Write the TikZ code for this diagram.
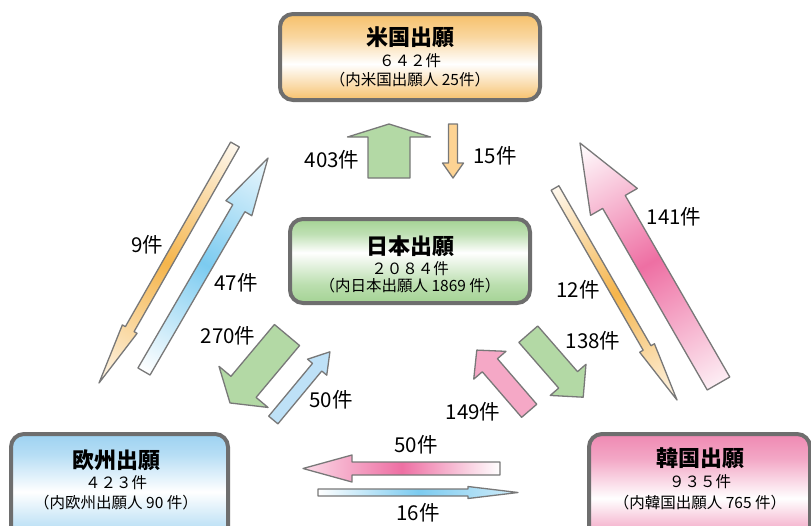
\documentclass[tikz,border=0pt]{standalone}
\usepackage{fontspec}
\setmainfont{Noto Sans CJK JP}
\definecolor{usO}{HTML}{F6C06A}
\definecolor{jpG}{HTML}{A4D394}
\definecolor{euB}{HTML}{9DD2F1}
\definecolor{krP}{HTML}{EF89B2}
\definecolor{boxgray}{HTML}{6E6E6E}
\definecolor{arrgray}{HTML}{787878}
\definecolor{grnA}{HTML}{B3D9A5}
\definecolor{orA}{HTML}{FDD393}
\definecolor{orM}{HTML}{F5B54C}
\definecolor{bluA}{HTML}{BEE1F7}
\definecolor{bluM}{HTML}{7CCBF0}
\definecolor{pnkA}{HTML}{F5A8C6}
\definecolor{pnkM}{HTML}{EE6FA3}
\pgfdeclareverticalshading{usshade}{100bp}{color(0bp)=(usO); color(25bp)=(usO); color(33bp)=(usO!60!white); color(46bp)=(white); color(62bp)=(usO!65!white); color(75bp)=(usO); color(100bp)=(usO)}
\pgfdeclareverticalshading{jpshade}{100bp}{color(0bp)=(jpG); color(25bp)=(jpG); color(36bp)=(jpG!75!white); color(55bp)=(white); color(66bp)=(jpG!70!white); color(75bp)=(jpG); color(100bp)=(jpG)}
\pgfdeclareverticalshading{eushade}{100bp}{color(0bp)=(euB); color(25bp)=(euB); color(49bp)=(white); color(66bp)=(euB!75!white); color(75bp)=(euB); color(100bp)=(euB)}
\pgfdeclareverticalshading{krshade}{100bp}{color(0bp)=(krP); color(25bp)=(krP); color(46bp)=(white); color(64bp)=(krP!75!white); color(75bp)=(krP); color(100bp)=(krP)}
\tikzset{
  boxstyle/.style={draw=boxgray, line width=4pt, rounded corners=13pt, inner sep=0pt, shade},
  arrowline/.style={draw=arrgray, line width=1.3pt, line join=round},
  lbl/.style={font=\fontsize{20.5}{20.5}\selectfont, inner sep=0pt},
  ttl/.style={font=\fontsize{22}{22}\selectfont\bfseries, inner sep=0pt},
  sub/.style={font=\fontsize{15.5}{15.5}\selectfont, inner sep=0pt},
}
% block arrow: #1 tail, #2 tip, #3 shaft half width, #4 head half width, #5 head length, #6 style
\newcommand\barrow[6]{%
  \path (#1); \pgfgetlastxy{\barax}{\baray}%
  \path (#2); \pgfgetlastxy{\barbx}{\barby}%
  \pgfmathsetmacro\barang{atan2((\barby)-(\baray),(\barbx)-(\barax))}%
  \pgfmathsetmacro\barlen{veclen((\barbx)-(\barax),(\barby)-(\baray))}%
  \pgfmathsetmacro\barhb{\barlen-#5}%
  \begin{scope}[transform canvas={shift={(#1)},rotate=\barang}]
    \path[arrowline,#6] (0pt,#3pt) -- (\barhb pt,#3pt) -- (\barhb pt,#4pt) -- (\barlen pt,0pt)
      -- (\barhb pt,-#4pt) -- (\barhb pt,-#3pt) -- (0pt,-#3pt) -- cycle;
  \end{scope}}
\begin{document}
\begin{tikzpicture}[x=1pt,y=-1pt]
\useasboundingbox (0,0) rectangle (811,525);
\fill[white] (0,0) rectangle (811,525);
% boxes
\node[boxstyle, shading=usshade, minimum width=260pt, minimum height=86pt] (us) at (410,57) {};
\node[boxstyle, shading=jpshade, minimum width=240pt, minimum height=84pt] (jp) at (410,261) {};
\node[boxstyle, shading=eushade, minimum width=217pt, minimum height=111pt] (eu) at (119.5,489.5) {};
\node[boxstyle, shading=krshade, minimum width=221pt, minimum height=111pt] (kr) at (699.5,489.5) {};
% box texts
\node[ttl] (us-t) at (410,37) {米国出願};
\node[sub] (us-n) at (410,61) {６４２件};
\node[sub] (us-d) at (410,80) {（内米国出願人 25件）};
\node[ttl] (jp-t) at (410,246) {日本出願};
\node[sub] (jp-n) at (410,269) {２０８４件};
\node[sub] (jp-d) at (410,286) {（内日本出願人 1869 件）};
\node[ttl] (eu-t) at (116,460) {欧州出願};
\node[sub] (eu-n) at (116,483) {４２３件};
\node[sub] (eu-d) at (116,503) {（内欧州出願人 90 件）};
\node[ttl] (kr-t) at (700,458) {韓国出願};
\node[sub] (kr-n) at (700,482) {９３５件};
\node[sub] (kr-d) at (700,503) {（内韓国出願人 765 件）};
% arrow end points
\coordinate (a1s) at (389,178);   \coordinate (a1e) at (389,124);
\coordinate (a2s) at (453,124);   \coordinate (a2e) at (453,178);
\coordinate (a3s) at (235,144.5); \coordinate (a3e) at (99,383);
\coordinate (a4s) at (144,371.5); \coordinate (a4e) at (268,158);
\coordinate (a5s) at (718.5,383.5); \coordinate (a5e) at (580,143);
\coordinate (a6s) at (555,188);   \coordinate (a6e) at (677,400);
\coordinate (a7s) at (287,335);   \coordinate (a7e) at (230,403);
\coordinate (a8s) at (273.3,420); \coordinate (a8e) at (330,351.7);
\coordinate (a9s) at (528.3,334.2); \coordinate (a9e) at (583.3,397.3);
\coordinate (a10s) at (529.2,410.8); \coordinate (a10e) at (476.7,350);
\coordinate (a11s) at (500,468.5); \coordinate (a11e) at (303,468.5);
\coordinate (a12s) at (318,492.5); \coordinate (a12e) at (518,492.5);
% arrows
\barrow{a1s}{a1e}{21}{41.5}{13}{fill=grnA}
\barrow{a2s}{a2e}{4.5}{10.5}{15}{fill=orA}
\barrow{a3s}{a3e}{5}{8.5}{62}{left color=usO!12!white, right color=usO!15!white, middle color=orM}
\barrow{a4s}{a4e}{7}{15}{58}{left color=white, right color=bluM!15!white, middle color=bluM}
\barrow{a5s}{a5e}{13}{27}{68}{left color=pnkM!12!white, right color=white, middle color=pnkM}
\barrow{a6s}{a6e}{4.5}{8.5}{60}{left color=usO!12!white, right color=usO!15!white, middle color=orM}
\barrow{a7s}{a7e}{16.4}{32}{21}{fill=grnA}
\barrow{a8s}{a8e}{6}{12.5}{20}{fill=bluA}
\barrow{a9s}{a9e}{12.5}{23.7}{23}{fill=grnA}
\barrow{a10s}{a10e}{10}{21.3}{20}{fill=pnkA}
\barrow{a11s}{a11e}{6.5}{13.5}{49}{left color=white, right color=pnkM!25!white, middle color=pnkM}
\barrow{a12s}{a12e}{3.5}{6}{50}{left color=white, right color=bluM!35!white, middle color=bluM}
% labels
\node[lbl] (l403) at (332,160) {403件};
\node[lbl] (l15) at (495,156) {15件};
\node[lbl] (l9) at (147,245) {9件};
\node[lbl] (l47) at (236,283) {47件};
\node[lbl] (l270) at (228,336) {270件};
\node[lbl] (l50a) at (331,400) {50件};
\node[lbl] (l141) at (674,217) {141件};
\node[lbl] (l12) at (578,290) {12件};
\node[lbl] (l138) at (593,341) {138件};
\node[lbl] (l149) at (473,412) {149件};
\node[lbl] (l50b) at (416,445) {50件};
\node[lbl] (l16) at (418,513) {16件};
\end{tikzpicture}
\end{document}
